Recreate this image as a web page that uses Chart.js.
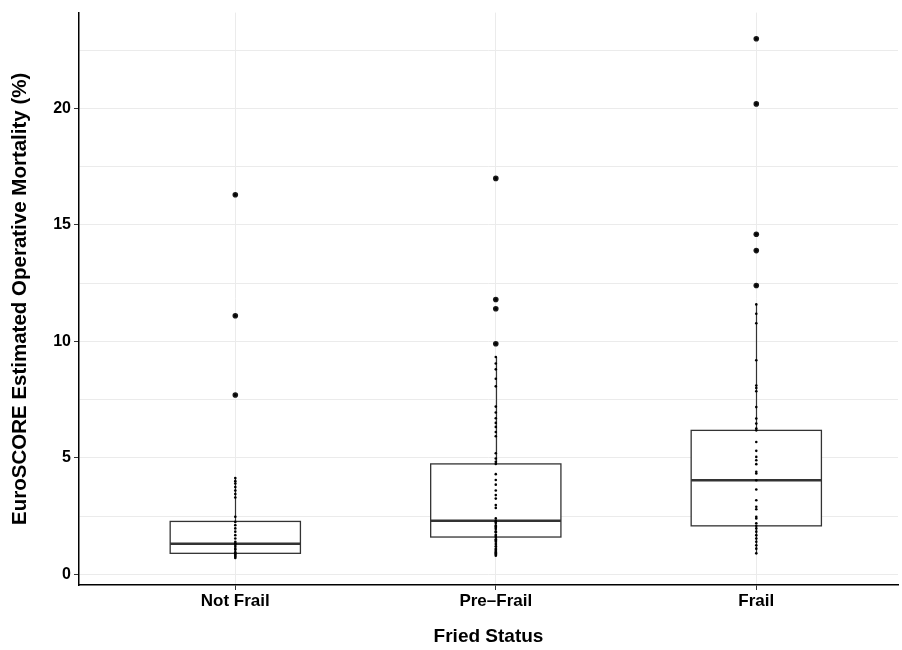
<!DOCTYPE html>
<html lang="en">
<head>
<meta charset="UTF-8">
<title>EuroSCORE by Fried Status</title>
<style>
  body { margin: 0; background: #fff; }
  #wrap { width: 902px; height: 650px; }
</style>
</head>
<body>
<div id="wrap"><canvas id="boxChart"></canvas></div>
<script src="https://cdn.jsdelivr.net/npm/chart.js"></script>
<script>
// groups along the x axis
const categories = ['Not Frail', 'Pre–Frail', 'Frail'];

// box summaries per group
const whiskerLow = [0.7, 0.78, 0.9];
const q1 = [0.9, 1.6, 2.08];
const medians = [1.31, 2.3, 4.04];
const q3 = [2.27, 4.74, 6.18];
const whiskerHigh = [4.13, 9.33, 11.59];

// points outside the whiskers
const outNotFrail = [7.7, 11.1, 16.3];
const outPreFrail = [9.9, 11.4, 11.8, 17.0];
const outFrail = [12.4, 13.9, 14.6, 20.2, 23.0];

// every observation, per group
const notFrail = [0.7, 0.75, 0.8, 0.85, 0.9, 0.95, 1.05, 1.1, 1.18, 1.26, 1.3, 1.33, 1.4, 1.54,
  1.68, 1.83, 1.97, 2.11, 2.25, 2.47, 3.3, 3.45, 3.6, 3.75, 3.9, 4.0, 4.13, 7.7, 11.1, 16.3];
const preFrail = [0.8, 0.85, 0.9, 0.95, 1.0, 1.05, 1.1, 1.2, 1.3, 1.4, 1.45, 1.5, 1.6, 1.65, 1.7,
  1.8, 1.85, 1.95, 2.0, 2.05, 2.1, 2.2, 2.25, 2.3, 2.4, 2.85, 2.97, 3.25, 3.4, 3.6, 3.85, 4.05,
  4.3, 4.74, 4.83, 4.97, 5.2, 5.93, 6.11, 6.33, 6.5, 6.7, 6.95, 7.2, 8.07, 8.4, 8.8, 9.05, 9.33,
  9.9, 11.4, 11.8, 17.0];
const frail = [0.9, 1.1, 1.25, 1.4, 1.54, 1.68, 1.83, 1.97, 2.08, 2.19, 2.4, 2.47, 2.79, 2.9,
  3.18, 3.64, 4.04, 4.33, 4.4, 4.73, 4.9, 5.04, 5.3, 5.68, 6.18, 6.26, 6.47, 6.69, 7.18, 7.86,
  8.0, 8.11, 9.19, 10.78, 11.19, 11.59, 12.4, 13.9, 14.6, 20.2, 23.0];

// y gridlines (labels only on multiples of 5)
const yTicks = [0, 2.5, 5, 7.5, 10, 12.5, 15, 17.5, 20, 22.5];

const groups = [notFrail, preFrail, frail];
const outGroups = [outNotFrail, outPreFrail, outFrail];

const toPoints = arr => arr.flatMap((vals, i) => vals.map(v => ({ x: i + 1, y: v })));

// boxes + whiskers, drawn under the points
const boxPlugin = {
  id: 'boxes',
  beforeDatasetsDraw(chart) {
    const { ctx, scales: { x, y } } = chart;
    const half = 0.25;
    ctx.save();
    ctx.strokeStyle = '#333333';
    categories.forEach((c, i) => {
      const cx = Math.round(x.getPixelForValue(i + 1)) + 0.5;
      const left = x.getPixelForValue(i + 1 - half);
      const right = x.getPixelForValue(i + 1 + half);
      const top = y.getPixelForValue(q3[i]);
      const bot = y.getPixelForValue(q1[i]);

      ctx.lineWidth = 1.2;
      ctx.beginPath();
      ctx.moveTo(cx, y.getPixelForValue(whiskerHigh[i]));
      ctx.lineTo(cx, top);
      ctx.moveTo(cx, bot);
      ctx.lineTo(cx, y.getPixelForValue(whiskerLow[i]));
      ctx.stroke();

      ctx.fillStyle = '#ffffff';
      ctx.fillRect(left, top, right - left, bot - top);
      ctx.lineWidth = 1.3;
      ctx.strokeRect(left, top, right - left, bot - top);

      const my = y.getPixelForValue(medians[i]);
      ctx.lineWidth = 2.6;
      ctx.beginPath();
      ctx.moveTo(left, my);
      ctx.lineTo(right, my);
      ctx.stroke();
    });
    ctx.restore();
  }
};

const ctx = document.getElementById('boxChart').getContext('2d');
new Chart(ctx, {
  type: 'scatter',
  data: {
    datasets: [
      {
        label: 'Observations',
        data: toPoints(groups),
        pointRadius: 1.3,
        pointBackgroundColor: '#000',
        pointBorderWidth: 0
      },
      {
        label: 'Outliers',
        data: toPoints(outGroups),
        pointRadius: 2.8,
        pointBackgroundColor: '#1a1a1a',
        pointBorderWidth: 0
      }
    ]
  },
  options: {
    responsive: true,
    maintainAspectRatio: false,
    animation: false,
    layout: { padding: { top: 12, right: 0, bottom: 0, left: 0 } },
    plugins: {
      legend: { display: false },
      tooltip: { enabled: false }
    },
    scales: {
      x: {
        type: 'linear',
        min: 0.4,
        max: 3.544,
        afterBuildTicks: scale => { scale.ticks = categories.map((c, i) => ({ value: i + 1 })); },
        afterFit: scale => { scale.height = 65; },
        ticks: {
          callback: v => categories[v - 1],
          color: '#000',
          font: { family: 'Liberation Sans', size: 17, weight: 'bold' },
          padding: 1,
          maxRotation: 0
        },
        grid: { color: '#ebebeb', lineWidth: 1, tickColor: '#333333', tickLength: 5 },
        border: { display: true, color: '#000', width: 1.5 },
        title: {
          display: true,
          text: 'Fried Status',
          color: '#000',
          font: { family: 'Liberation Sans', size: 19, weight: 'bold' },
          padding: { top: 0, bottom: 2 }
        }
      },
      y: {
        type: 'linear',
        min: -0.46,
        max: 24.12,
        afterBuildTicks: scale => { scale.ticks = yTicks.map(v => ({ value: v })); },
        afterFit: scale => { scale.width = 79; },
        ticks: {
          callback: v => (v % 5 === 0 ? v : ''),
          color: '#000',
          font: { family: 'Liberation Sans', size: 16, weight: 'bold' },
          padding: 3
        },
        grid: {
          color: '#ebebeb',
          lineWidth: 1,
          tickLength: 5,
          tickColor: c => (c.tick && c.tick.value % 5 === 0 ? '#333333' : 'rgba(0,0,0,0)')
        },
        border: { display: true, color: '#000', width: 1.5 },
        title: {
          display: true,
          text: 'EuroSCORE Estimated Operative Mortality (%)',
          color: '#000',
          font: { family: 'Liberation Sans', size: 20.5, weight: 'bold' },
          padding: { top: 8, bottom: 0 }
        }
      }
    }
  },
  plugins: [boxPlugin]
});
</script>
</body>
</html>
